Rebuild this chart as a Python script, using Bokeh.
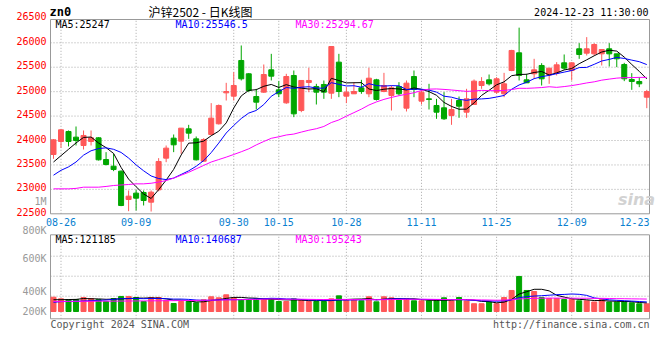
import pandas as pd
from bokeh.plotting import figure
from bokeh.models import Range1d
from bokeh.core.properties import value
from bokeh.embed import file_html
from bokeh.resources import INLINE

# ---------------- data ----------------
dates = ["08-23",
         "08-26", "08-27", "08-28", "08-29", "08-30",
         "09-02", "09-03", "09-04", "09-05", "09-06",
         "09-09", "09-10", "09-11", "09-12", "09-13",
         "09-18", "09-19", "09-20",
         "09-23", "09-24", "09-25", "09-26", "09-27",
         "09-30",
         "10-08", "10-09", "10-10", "10-11",
         "10-14", "10-15", "10-16", "10-17", "10-18",
         "10-21", "10-22", "10-23", "10-24", "10-25",
         "10-28", "10-29", "10-30", "10-31", "11-01",
         "11-04", "11-05", "11-06", "11-07", "11-08",
         "11-11", "11-12", "11-13", "11-14", "11-15",
         "11-18", "11-19", "11-20", "11-21", "11-22",
         "11-25", "11-26", "11-27", "11-28", "11-29",
         "12-02", "12-03", "12-04", "12-05", "12-06",
         "12-09", "12-10", "12-11", "12-12", "12-13",
         "12-16", "12-17", "12-18", "12-19", "12-20",
         "12-23"]

opens = [23714, 23980, 24185, 24069, 23898, 23980, 24055, 23611, 23475, 23373,
         22793, 22923, 22936, 22738, 22991, 23639, 24048, 23987, 24239, 24034,
         23577, 24123, 24342, 24976, 24908, 25638, 25365, 24901, 24990, 25447,
         25037, 24771, 25331, 24614, 25188, 25106, 25147, 24969, 25604, 24908,
         24956, 25078, 24956, 25242, 25003, 24922, 25106, 24662, 25310, 24806,
         24853, 24717, 24669, 24512, 24819, 24580, 24737, 25126, 25242, 24990,
         24956, 25433, 25795, 25242, 25365, 25536, 25344, 25379, 25590, 25433,
         25877, 25788, 25774, 25774, 25877, 25774, 25556, 25249, 25208, 24887]

closes = [24014, 24219, 23980, 24000, 24103, 24055, 23605, 23509, 23407, 22670,
          22861, 22820, 22772, 22943, 23571, 23844, 23912, 24253, 24151, 23605,
          24021, 24458, 24717, 25003, 25126, 25263, 25024, 24785, 25351, 25317,
          24956, 25310, 24546, 25229, 25229, 24990, 24990, 25924, 25003, 24990,
          25003, 25003, 25276, 24840, 25126, 25078, 24956, 25174, 25044, 24990,
          24840, 24580, 24444, 24635, 24703, 24853, 25215, 25208, 25160, 25263,
          25160, 25843, 25331, 25181, 25447, 25263, 25481, 25549, 25481, 25590,
          25761, 25877, 25965, 25863, 25774, 25672, 25263, 25208, 25160, 25001]

highs = [24028, 24232, 24205, 24287, 24205, 24205, 24069, 23762, 23727, 23386,
         22977, 22990, 22977, 22977, 23639, 23898, 24123, 24253, 24321, 24082,
         24048, 24765, 24737, 25181, 25399, 25945, 25379, 25058, 25556, 25774,
         25215, 25365, 25433, 25229, 25488, 25160, 25229, 25924, 25774, 25092,
         25194, 25242, 25488, 25263, 25385, 25126, 25194, 25229, 25433, 25024,
         25160, 24853, 24990, 24853, 24901, 25058, 25249, 25297, 25351, 25297,
         25385, 25856, 26310, 25365, 25672, 25583, 25481, 25604, 25761, 25604,
         25993, 26116, 25993, 25863, 25993, 25774, 25590, 25379, 25297, 25037]

lows = [23625, 23850, 23878, 23898, 23816, 23898, 23591, 23489, 23373, 22656,
        22554, 22568, 22670, 22547, 22960, 23557, 23762, 23727, 24034, 23591,
        23570, 24110, 24328, 24819, 24819, 25229, 24990, 24635, 24976, 25229,
        24887, 24751, 24478, 24580, 24990, 24737, 24853, 24853, 24887, 24765,
        24956, 24956, 24887, 24819, 24990, 24614, 24922, 24594, 24887, 24737,
        24635, 24444, 24423, 24321, 24464, 24464, 24737, 25058, 25126, 24956,
        24887, 25419, 25229, 25181, 25263, 25126, 25160, 25331, 25447, 25229,
        25672, 25740, 25740, 25536, 25515, 25502, 25215, 25037, 25092, 24662]

volumes = [224000, 199000, 188000, 188000, 220000, 204000, 188000, 157000, 204000, 236000,
           236000, 220000, 157000, 220000, 220000, 173000, 126000, 157000, 157000, 137000,
           184000, 231000, 215000, 262000, 215000, 184000, 184000, 199000, 199000, 199000,
           157000, 157000, 199000, 184000, 157000, 157000, 157000, 199000, 246000, 184000,
           184000, 168000, 231000, 152000, 231000, 215000, 184000, 199000, 168000, 168000,
           168000, 168000, 215000, 165000, 220000, 165000, 122000, 122000, 149000, 122000,
           220000, 330000, 550000, 330000, 314000, 220000, 204000, 204000, 188000, 188000,
           168000, 168000, 149000, 188000, 149000, 149000, 149000, 137000, 121000, 121000]

# moving-average values before enough history is on screen
ma5_head = [23560, 23690, 23820, 23950]
ma10_head = [23290, 23390, 23460, 23560, 23700, 23790, 23835, 23850, 23820]
ma30_head = [23011, 23011, 23011, 23020, 23045, 23045, 23045, 23060, 23079, 23090,
             23100, 23113, 23113, 23125, 23150, 23180, 23230, 23290, 23350, 23420,
             23490, 23560, 23610, 23660, 23714, 23770, 23830, 23910, 23980]
vol_ma5_head = [185000, 185000, 188000, 190000]
vol_ma10_head = [145000, 155000, 158000, 160000, 165000, 170000, 175000, 180000, 190000]
vol_ma30_head = [158000, 158000, 158000, 160000, 160000, 160000, 162000, 162000, 162000, 164000,
                 164000, 166000, 166000, 168000, 168000, 170000, 170000, 172000, 172000, 174000,
                 176000, 178000, 180000, 182000, 184000, 186000, 188000, 190000, 193000]

date_tick_labels = ["08-26", "09-09", "09-30", "10-15", "10-28", "11-11", "11-25", "12-09", "12-23"]
price_ticks = [22500, 23000, 23500, 24000, 24500, 25000, 25500, 26000, 26500]
price_ma_texts = ["MA5:25247", "MA10:25546.5", "MA30:25294.67"]
vol_ma_texts = ["MA5:121185", "MA10:140687", "MA30:195243"]
vol_axis_labels = ["1M", "800K", "600K", "400K", "200K"]
title_text = "沪锌2502 - 日K线图"
symbol_text = "zn0"
time_text = "2024-12-23 11:30:00"
copyright_text = "Copyright 2024 SINA.COM"
url_text = "http://finance.sina.com.cn"
watermark_text = "sina"

# ---------------- layout / style constants (canvas pixels) ----------------
W, H = 660, 350
MONO = "DejaVu Sans Mono"
UP, DOWN = "#ff5858", "#00a600"
MA_COLORS = ["#000000", "#0000ff", "#ff00ff"]
GRID = "#a8a8a8"
FRAME = "#999999"
DATE_COLOR = "#0a7fd0"
VOL_LABEL_COLOR = "#999999"
FOOT_COLOR = "#555555"

FRAME_L, FRAME_R = 50, 649           # both panels
P_TOP, P_BOT = 19, 213.3             # price panel
V_TOP, V_BOT = 234.3, 318.3          # volume panel
X0_PX, X_STEP = 53.0, 7.51           # first candle centre, candle spacing
P_REF = ((26000, 42.3), (22500, 213.3))
V_BASE, VOL_PER_PX = 311.0, 15700.0
CHAR_W = 6.0


def px_to_x(px):
    return (px - X0_PX) / X_STEP


def py_to_p(py):
    (v1, y1), (v2, y2) = P_REF
    return v2 + (y2 - py) * (v1 - v2) / (y2 - y1)


def py_to_v(py):
    return (V_BASE - py) * VOL_PER_PX


# ---------------- derived series ----------------
idx = list(range(len(dates)))
colors = [UP if c >= o else DOWN for o, c in zip(opens, closes)]
tops = [max(o, c) for o, c in zip(opens, closes)]
bottoms = [min(o, c) for o, c in zip(opens, closes)]


def moving_average(values, n, head):
    s = pd.Series(values, dtype=float).rolling(n).mean().tolist()
    return list(head) + s[len(head):]


ma_series = [moving_average(closes, 5, ma5_head),
             moving_average(closes, 10, ma10_head),
             moving_average(closes, 30, ma30_head)]
vol_ma_series = [moving_average(volumes, 5, vol_ma5_head),
                 moving_average(volumes, 10, vol_ma10_head),
                 moving_average(volumes, 30, vol_ma30_head)]

XL, XR = px_to_x(FRAME_L), px_to_x(FRAME_R)
tick_idx = [dates.index(d) for d in date_tick_labels]
half_w = [len(l) * CHAR_W / 2 / X_STEP for l in date_tick_labels]
date_x = [i if i + h <= XR else XR for i, h in zip(tick_idx, half_w)]
date_align = ["center" if i + h <= XR else "right" for i, h in zip(tick_idx, half_w)]
grid_idx = [i for i, h in zip(tick_idx, half_w) if i + h <= XR]

# ---------------- figure: frame covers the whole canvas ----------------
p = figure(width=W, height=H,
           x_range=Range1d(px_to_x(0), px_to_x(W)),
           y_range=Range1d(py_to_p(H), py_to_p(0)),
           output_backend="svg", toolbar_location=None, title=None,
           x_axis_location=None, y_axis_location=None, min_border=0)
p.extra_y_ranges = {"vol": Range1d(py_to_v(H), py_to_v(0))}
p.outline_line_color = None
p.grid.visible = False
p.background_fill_color = "white"
p.border_fill_color = "white"


def add_text(x, y, texts, color, size="10px", font=MONO, align="left",
             style="normal", y_range_name="default", y_offset=0):
    p.text(x=x, y=y, text=texts, text_color=color, text_font=value(font),
           text_font_size=size, text_align=align, text_baseline="middle",
           text_font_style=style, y_offset=y_offset, y_range_name=y_range_name)


# ----- price panel -----
pb, pt = py_to_p(P_BOT), py_to_p(P_TOP)
grid_p = [t for t in price_ticks if pb < t < pt]
p.segment(x0=XL, x1=XR, y0=grid_p, y1=grid_p, line_color=GRID, line_dash="1 2")
p.segment(x0=grid_idx, x1=grid_idx, y0=pb, y1=pt, line_color=GRID, line_dash="1 2")
p.quad(left=XL, right=XR, bottom=pb, top=pt, fill_color=None, line_color=FRAME)

p.segment(x0=idx, y0=lows, x1=idx, y1=highs, line_color=colors, line_width=1)
p.vbar(x=idx, width=5.0 / X_STEP, top=tops, bottom=bottoms,
       fill_color=colors, line_color=colors, line_width=1)
for series, col in zip(ma_series, MA_COLORS):
    p.line(idx, series, line_color=col, line_width=1)

add_text(px_to_x(46), price_ticks, [str(t) for t in price_ticks], "#ff0000",
         align="right", y_offset=-2)
for text, col, px in zip(price_ma_texts, MA_COLORS, (55, 175, 295)):
    add_text([px_to_x(px)], [py_to_p(24)], [text], col)
add_text(date_x, [py_to_p(221.5)] * len(date_x), date_tick_labels, DATE_COLOR,
         align=date_align)

# header
add_text([px_to_x(49)], [py_to_p(11)], [symbol_text], "#000000", size="12px", style="bold")
add_text([px_to_x(200)], [py_to_p(10.5)], [title_text], "#000000", size="12px",
         font="Noto Sans CJK SC", align="center")
add_text([px_to_x(648)], [py_to_p(12)], [time_text], "#000000", align="right")
add_text([px_to_x(636)], [py_to_p(199)], [watermark_text], "#d2d2d2", size="16px",
         font="DejaVu Sans", align="center", style="bold italic")

# ----- volume panel -----
vb, vt = py_to_v(V_BOT), py_to_v(V_TOP)
grid_v = [py_to_v(g) for g in (255.7, 275.7, 295.7)]
p.segment(x0=XL, x1=XR, y0=grid_v, y1=grid_v, line_color=GRID, line_dash="1 2",
          y_range_name="vol")
p.segment(x0=grid_idx, x1=grid_idx, y0=vb, y1=vt, line_color=GRID, line_dash="1 2",
          y_range_name="vol")
p.quad(left=XL, right=XR, bottom=vb, top=vt, fill_color=None, line_color=FRAME,
       y_range_name="vol")

p.vbar(x=idx, width=5.0 / X_STEP, top=volumes, bottom=0,
       fill_color=colors, line_color=colors, line_width=1, y_range_name="vol")
for series, col in zip(vol_ma_series, MA_COLORS):
    p.line(idx, series, line_color=col, line_width=1, y_range_name="vol")

for text, col, px in zip(vol_ma_texts, MA_COLORS, (55, 175, 295)):
    add_text([px_to_x(px)], [py_to_v(239)], [text], col, y_range_name="vol")

vol_label_py = [200.7, 230.0, 258.0, 290.7, 310.7]
add_text([px_to_x(46)] * len(vol_axis_labels), [py_to_v(y) for y in vol_label_py],
         vol_axis_labels, VOL_LABEL_COLOR, align="right", y_range_name="vol")

add_text([px_to_x(50)], [py_to_v(324)], [copyright_text], FOOT_COLOR, y_range_name="vol")
add_text([px_to_x(649)], [py_to_v(324)], [url_text], FOOT_COLOR, align="right",
         y_range_name="vol")

open("out.html", "w").write(file_html(p, INLINE))
